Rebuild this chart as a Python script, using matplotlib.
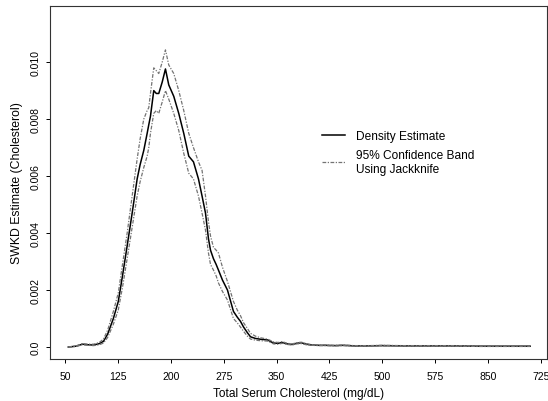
import matplotlib
matplotlib.use("Agg")
import matplotlib.pyplot as plt

plt.rcParams['font.family'] = ['Liberation Sans', 'DejaVu Sans']

# Total serum cholesterol (mg/dL)
chol = [54, 65, 74, 82, 90, 98, 104, 110, 118, 125, 131, 137.6, 144.7, 151.8, 156,
        161.2, 166, 168.3, 170.7, 175.4, 179, 182.5, 187.4, 192, 196.7, 203.8, 210.9,
        218, 225.1, 231.8, 238.9, 244, 248.9, 253.1, 256, 260.2, 264, 267.3, 273,
        280.1, 288.6, 294, 298.6, 303, 308.5, 312.8, 320, 328, 336.9, 345.5, 352,
        358, 365, 372, 378, 385, 392, 400, 410, 420, 432, 445, 460, 480, 500, 530,
        560, 600, 640, 680, 710]

density = [0.0, 0.00003, 0.00010, 0.00008, 0.00007, 0.00012, 0.00020, 0.00046, 0.00100,
           0.00160, 0.00250, 0.00355, 0.00470, 0.00590, 0.00640, 0.00690, 0.00750,
           0.00780, 0.00810, 0.00900, 0.00890, 0.00890, 0.00930, 0.00976, 0.00920,
           0.00880, 0.00820, 0.00750, 0.00670, 0.00650, 0.00590, 0.00530, 0.00470,
           0.00380, 0.00340, 0.00310, 0.00290, 0.00270, 0.00235, 0.00200, 0.00125,
           0.00105, 0.00090, 0.00070, 0.00050, 0.00036, 0.00030, 0.00027, 0.00025,
           0.00014, 0.00013, 0.00016, 0.00011, 0.00009, 0.00013, 0.00015, 0.00010,
           0.00007, 0.00006, 0.00006, 0.00005, 0.00006, 0.00004, 0.00004, 0.00005,
           0.00004, 0.00004, 0.00004, 0.00003, 0.00003, 0.00003]

upper = [0.0, 0.00004, 0.00012, 0.00010, 0.00010, 0.00016, 0.00028, 0.00060, 0.00125,
         0.00190, 0.00290, 0.00400, 0.00530, 0.00660, 0.00730, 0.00800, 0.00830,
         0.00840, 0.00890, 0.00980, 0.00970, 0.00960, 0.01000, 0.01043, 0.00990,
         0.00960, 0.00900, 0.00830, 0.00750, 0.00700, 0.00650, 0.00620, 0.00530,
         0.00440, 0.00390, 0.00350, 0.00340, 0.00330, 0.00280, 0.00230, 0.00160,
         0.00130, 0.00110, 0.00085, 0.00065, 0.00048, 0.00038, 0.00032, 0.00028,
         0.00018, 0.00016, 0.00019, 0.00013, 0.00011, 0.00015, 0.00017, 0.00012,
         0.00008, 0.00007, 0.00007, 0.00006, 0.00007, 0.00005, 0.00005, 0.00006,
         0.00005, 0.00005, 0.00005, 0.00004, 0.00004, 0.00004]

lower = [0.0, 0.00002, 0.00008, 0.00006, 0.00005, 0.00008, 0.00014, 0.00034, 0.00080,
         0.00130, 0.00210, 0.00310, 0.00420, 0.00530, 0.00580, 0.00630, 0.00670,
         0.00700, 0.00750, 0.00820, 0.00830, 0.00820, 0.00860, 0.00900, 0.00870,
         0.00820, 0.00760, 0.00680, 0.00610, 0.00590, 0.00530, 0.00470, 0.00410,
         0.00330, 0.00290, 0.00270, 0.00250, 0.00225, 0.00195, 0.00165, 0.00100,
         0.00085, 0.00070, 0.00055, 0.00038, 0.00028, 0.00024, 0.00022, 0.00021,
         0.00011, 0.00010, 0.00013, 0.00009, 0.00007, 0.00011, 0.00012, 0.00008,
         0.00006, 0.00005, 0.00005, 0.00004, 0.00005, 0.00003, 0.00003, 0.00004,
         0.00003, 0.00003, 0.00003, 0.00002, 0.00002, 0.00002]

x_ticks = [50, 125, 200, 275, 350, 425, 500, 575, 650, 725]
x_tick_labels = ['50', '125', '200', '275', '350', '425', '500', '575', '850', '725']
y_ticks = [0.0, 0.002, 0.004, 0.006, 0.008, 0.010]
y_tick_labels = ['0.0', '0.002', '0.004', '0.006', '0.008', '0.010']

fig = plt.figure(figsize=(5.48, 4.02), dpi=100)
ax = fig.add_axes([50 / 548, 42 / 402, 497 / 548, 353 / 402])

band_style = dict(color='0.45', lw=0.9, linestyle=(0, (3, 1.2, 1, 1.2)))
l_dens, = ax.plot(chol, density, color='black', lw=1.1, label='Density Estimate')
l_up, = ax.plot(chol, upper, label='95% Confidence Band\nUsing Jackknife', **band_style)
ax.plot(chol, lower, **band_style)

ax.set_xlim(28, 734)
ax.set_ylim(-0.00042, 0.01197)
ax.set_xticks(x_ticks)
ax.set_xticklabels(x_tick_labels, fontsize=7.5)
ax.set_yticks(y_ticks)
ax.set_yticklabels(y_tick_labels, fontsize=7.5, rotation=90, va='center')
ax.tick_params(axis='both', direction='out', length=3, width=0.7, pad=4)
ax.tick_params(axis='x', pad=6)

for s in ax.spines.values():
    s.set_linewidth(0.8)
    s.set_color('0.2')

ax.set_xlabel('Total Serum Cholesterol (mg/dL)', fontsize=8.6, labelpad=4)
ax.set_ylabel('SWKD Estimate (Cholesterol)', fontsize=8.8, labelpad=5)

ax.legend(handles=[l_dens, l_up], loc='upper left', bbox_to_anchor=(0.547, 0.649),
          frameon=False, fontsize=8.6, handlelength=1.9, handletextpad=1.0,
          labelspacing=0.6, borderpad=0, borderaxespad=0)

fig.savefig('out.png', dpi=100)
